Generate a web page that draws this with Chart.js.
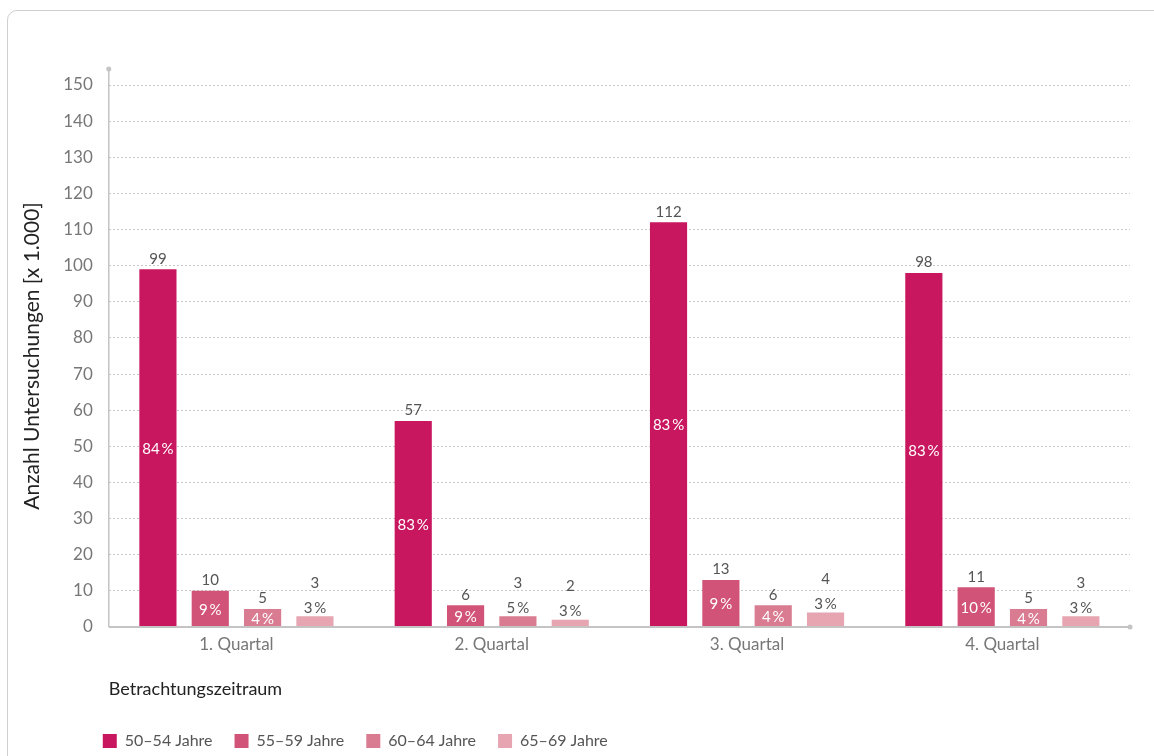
<!DOCTYPE html>
<html>
<head>
<meta charset="utf-8">
<script src="https://cdn.jsdelivr.net/npm/chart.js@4"></script>
<style>
  html, body { margin: 0; padding: 0; background: #fff; }
  body { width: 1154px; height: 756px; position: relative; overflow: hidden; }
  .card { position: absolute; left: 7px; top: 10px; width: 1200px; height: 800px;
          border: 1px solid #cfcfcf; border-radius: 10px; box-sizing: border-box; }
  #wrap { position: absolute; left: 0; top: 0; width: 1154px; height: 756px; }
</style>
</head>
<body>
<div class="card"></div>
<div id="wrap"><canvas id="myChart"></canvas></div>
<script>
var quartale = ['1. Quartal', '2. Quartal', '3. Quartal', '4. Quartal'];
var gruppen = ['50–54 Jahre', '55–59 Jahre', '60–64 Jahre', '65–69 Jahre'];

var jahre50 = [99, 57, 112, 98];
var jahre55 = [10, 6, 13, 11];
var jahre60 = [5, 3, 6, 5];
var jahre65 = [3, 2, 4, 3];

var anteil50 = [84, 83, 83, 83];
var anteil55 = [9, 9, 9, 10];
var anteil60 = [4, 5, 4, 4];
var anteil65 = [3, 3, 3, 3];

var yTicks = [0, 10, 20, 30, 40, 50, 60, 70, 80, 90, 100, 110, 120, 130, 140, 150];

var farben = ['#C8175F', '#D15478', '#D97B91', '#E6A5B1'];
var werte = [jahre50, jahre55, jahre60, jahre65];
var anteile = [anteil50, anteil55, anteil60, anteil65];

var fontName = 'Lato, "Open Sans", sans-serif';

// value on top, share inside (or above when the bar is too low)
var barLabels = {
  id: 'barLabels',
  afterDatasetsDraw: function(chart) {
    var ctx = chart.ctx;
    ctx.save();
    ctx.font = '15px ' + fontName;
    ctx.textAlign = 'center';
    chart.data.datasets.forEach(function(ds, i) {
      var meta = chart.getDatasetMeta(i);
      meta.data.forEach(function(bar, j) {
        var v = ds.data[j];
        var pct = anteile[i][j] + '\u2009%';
        var hoehe = bar.base - bar.y;
        if (v >= 5) {
          ctx.textBaseline = 'middle';
          ctx.fillStyle = '#fff';
          ctx.fillText(pct, bar.x, bar.y + hoehe / 2 + 1);
          ctx.textBaseline = 'bottom';
          ctx.fillStyle = '#555';
          ctx.fillText(v, bar.x, bar.y - 3);
        } else {
          ctx.textBaseline = 'bottom';
          ctx.fillStyle = '#555';
          ctx.fillText(pct, bar.x, bar.y - 1);
          ctx.fillText(v, bar.x, bar.y - 26);
        }
      });
    });
    ctx.restore();
  }
};

// axis lines with the little end dots
var achsen = {
  id: 'achsen',
  afterDraw: function(chart) {
    var a = chart.chartArea, ctx = chart.ctx;
    ctx.save();
    ctx.strokeStyle = '#c4c4c4';
    ctx.fillStyle = '#c4c4c4';
    ctx.lineWidth = 1.5;
    ctx.beginPath();
    ctx.moveTo(a.left, a.bottom);
    ctx.lineTo(a.left, a.top - 16);
    ctx.stroke();
    ctx.beginPath();
    ctx.arc(a.left, a.top - 16, 2.5, 0, Math.PI * 2);
    ctx.fill();
    ctx.lineWidth = 2;
    ctx.beginPath();
    ctx.moveTo(a.left, a.bottom);
    ctx.lineTo(a.right, a.bottom);
    ctx.stroke();
    ctx.beginPath();
    ctx.arc(a.right, a.bottom, 2.5, 0, Math.PI * 2);
    ctx.fill();
    ctx.restore();
  }
};

// legend starts under the axis, not at the canvas edge
var legendeVerschieben = {
  id: 'legendeVerschieben',
  afterLayout: function(chart) {
    if (chart.legend) {
      var d = chart.chartArea.left - 28 - chart.legend.left;
      chart.legend.left += d;
      chart.legend.right += d;
      chart.legend.top += 3;
      chart.legend.bottom += 3;
    }
  }
};

var ctx = document.getElementById('myChart');
var myChart = new Chart(ctx, {
  type: 'bar',
  data: {
    labels: quartale,
    datasets: gruppen.map(function(g, i) {
      return {
        label: g,
        data: werte[i],
        backgroundColor: farben[i],
        borderWidth: 0,
        categoryPercentage: 0.82,
        barPercentage: 0.71
      };
    })
  },
  options: {
    responsive: true,
    maintainAspectRatio: false,
    animation: false,
    layout: { padding: { top: 85, right: 24, bottom: 0, left: 10 } },
    plugins: {
      tooltip: { enabled: false },
      legend: {
        position: 'bottom',
        align: 'start',
        labels: {
          boxWidth: 14,
          boxHeight: 14,
          padding: 22,
          color: '#555',
          font: { family: fontName, size: 16 }
        }
      }
    },
    scales: {
      x: {
        grid: { display: false, drawTicks: false },
        border: { display: false },
        ticks: { color: '#777', font: { family: fontName, size: 17 }, padding: 7 },
        title: {
          display: true,
          text: 'Betrachtungszeitraum',
          align: 'start',
          color: '#222',
          font: { family: fontName, size: 18 },
          padding: { top: 17, bottom: 8 }
        }
      },
      y: {
        min: 0,
        max: 150,
        afterBuildTicks: function(axis) {
          axis.ticks = yTicks.map(function(v) { return { value: v }; });
        },
        grid: { color: '#c8c8c8', drawTicks: false, lineWidth: 1 },
        border: { display: false, dash: [2, 2] },
        ticks: { color: '#777', font: { family: fontName, size: 17 }, padding: 16 },
        title: {
          display: true,
          text: 'Anzahl Untersuchungen [x 1.000]',
          color: '#222',
          font: { family: fontName, size: 21 },
          padding: { top: 10, bottom: 2 }
        }
      }
    }
  },
  plugins: [barLabels, achsen, legendeVerschieben]
});
</script>
</body>
</html>
